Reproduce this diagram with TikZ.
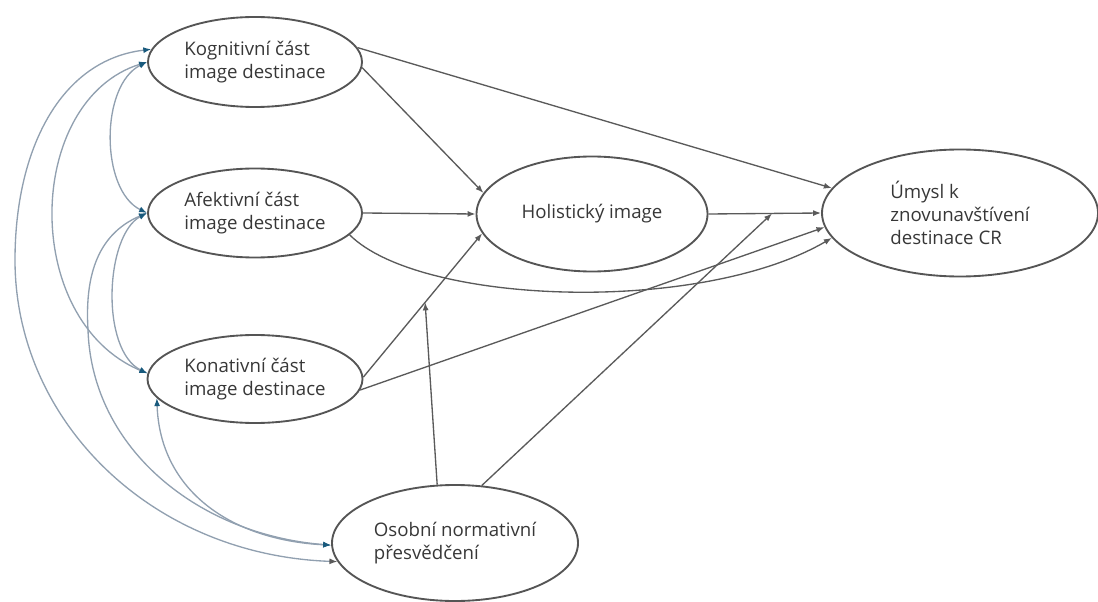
\documentclass[tikz,border=0pt]{standalone}
\usepackage{fontspec}
\setmainfont{Open Sans}
\usetikzlibrary{shapes.geometric,arrows.meta}
\definecolor{edge}{RGB}{85,85,85}
\definecolor{conn}{RGB}{90,90,90}
\definecolor{arccol}{RGB}{145,160,176}
\definecolor{tipblue}{RGB}{25,90,125}
\definecolor{txt}{RGB}{55,55,55}
\tikzset{
  var/.style={ellipse, draw=edge, line width=1.4pt, inner sep=0pt, align=left,
    text=txt, font=\fontsize{14}{17.25}\selectfont},
  reg/.style={draw=conn, line width=1pt, -{Latex[length=6pt,width=4.5pt]}},
  cov/.style={draw=arccol, line width=1pt,
    {Latex[length=6pt,width=4.5pt,color=tipblue]}-{Latex[length=6pt,width=4.5pt,color=tipblue]}},
  covko/.style={draw=arccol, line width=1pt,
    {Latex[length=6pt,width=4.5pt,color=tipblue]}-{Latex[length=6pt,width=4.5pt,color=conn]}},
}
\begin{document}
\begin{tikzpicture}[x=0.75pt,y=-0.75pt]
\useasboundingbox (0,0) rectangle (1098,602);
\node[var, minimum width=160.5pt, minimum height=67.5pt] (kog) at (255,62) {Kognitivní část\\image destinace};
\node[var, minimum width=160.5pt, minimum height=66.75pt] (afe) at (255,213) {Afektivní část\\image destinace};
\node[var, minimum width=161.25pt, minimum height=66pt] (kon) at (255,379) {Konativní část\\image destinace};
\node[var, minimum width=173.25pt, minimum height=86.25pt] (hol) at (592,214) {Holistický image};
\node[var, minimum width=207pt, minimum height=95.25pt] (umy) at (960,213) {Úmysl k\\znovunavštívení\\destinace CR};
\node[var, minimum width=184.5pt, minimum height=87pt] (oso) at (455,543) {Osobní normativní\\přesvědčení};

% regression paths
\draw[reg] (kog.-3) -- (hol.169);
\draw[reg] (kog.8) -- (umy.169);
\draw[reg] (afe.east) -- (hol.west);
\draw[reg] (afe.-13) .. controls (420,305) and (700,315) .. (umy.191);
\draw[reg] (kon.1) -- coordinate[pos=0.52] (m1) (hol.190);
\draw[reg] (kon.-6) -- (umy.186);
\draw[reg] (hol.east) -- coordinate[pos=0.565] (m2) (umy.west);
\draw[reg] (oso.107) -- (m1);
\draw[reg] (oso.65) -- (m2);

% covariances
\draw[cov] (kog.180) .. controls (100,85) and (100,190) .. (afe.180);
\draw[cov] (kog.180) .. controls (25,100) and (20,320) .. (kon.177);
\draw[covko] (kog.173) .. controls (60,60) and (15,150) .. (15,260) .. controls (15,420) and (150,555) .. (oso.189);
\draw[cov] (afe.180) .. controls (105,235) and (100,350) .. (kon.177);
\draw[cov] (afe.180) .. controls (95,235) and (85,280) .. (88,330) .. controls (92,450) and (200,535) .. (oso.181);
\draw[cov] (kon.191) .. controls (160,490) and (230,540) .. (oso.181);
\end{tikzpicture}
\end{document}
